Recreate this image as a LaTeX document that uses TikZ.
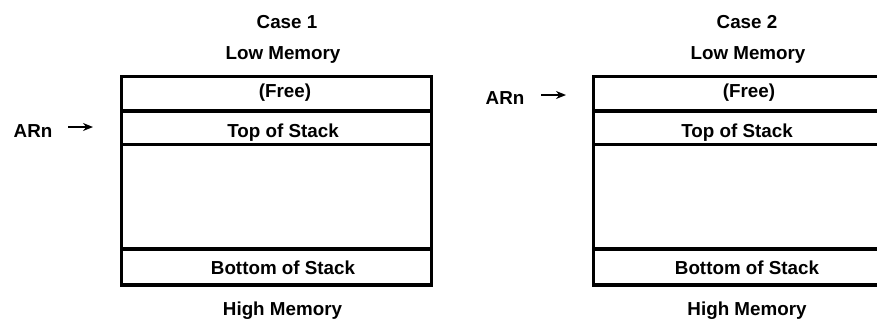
\documentclass[tikz,border=0pt]{standalone}
\usepackage{fontspec}
\setmainfont{Liberation Sans}
\usetikzlibrary{arrows.meta}
\begin{document}
\begin{tikzpicture}[x=1bp,y=-1bp,
  lbl/.style={anchor=base,inner sep=0pt,font=\fontsize{18.8bp}{22bp}\selectfont\bfseries},
  wall/.style={line width=3.8bp},
  ptr/.style={line width=2bp,-{Stealth[length=10bp,width=8bp]}}]
\useasboundingbox (0,0) rectangle (877,320);
\clip (0,0) rectangle (877,320);
% Case 1
\draw[wall] (121.5,76.5) rectangle (431.5,285);
\draw[wall] (121.5,111) -- (431.5,111);
\draw[wall] (121.5,144.5) -- (431.5,144.5);
\draw[wall] (121.5,249) -- (431.5,249);
\node[lbl] (c1) at (287,28) {Case 1};
\node[lbl] (lm1) at (283,59) {Low Memory};
\node[lbl] (fr1) at (285,97) {(Free)};
\node[lbl] (ts1) at (283,137) {Top of Stack};
\node[lbl] (bs1) at (283,274) {Bottom of Stack};
\node[lbl] (hm1) at (282.5,315) {High Memory};
\node[lbl] (arn1) at (33,137) {ARn};
\coordinate (a1s) at (68,127);
\coordinate (a1e) at (93,127);
\draw[ptr] (a1s) -- (a1e);
% Case 2
\draw[wall] (900,76.5) -- (593.5,76.5) -- (593.5,285) -- (900,285);
\draw[wall] (593.5,111) -- (900,111);
\draw[wall] (593.5,144.5) -- (900,144.5);
\draw[wall] (593.5,249) -- (900,249);
\node[lbl] (c2) at (747,28) {Case 2};
\node[lbl] (lm2) at (748,59) {Low Memory};
\node[lbl] (fr2) at (749,97) {(Free)};
\node[lbl] (ts2) at (737,137) {Top of Stack};
\node[lbl] (bs2) at (747,274) {Bottom of Stack};
\node[lbl] (hm2) at (747,315) {High Memory};
\node[lbl] (arn2) at (505,104) {ARn};
\coordinate (a2s) at (541,95);
\coordinate (a2e) at (566,95);
\draw[ptr] (a2s) -- (a2e);
\end{tikzpicture}
\end{document}
